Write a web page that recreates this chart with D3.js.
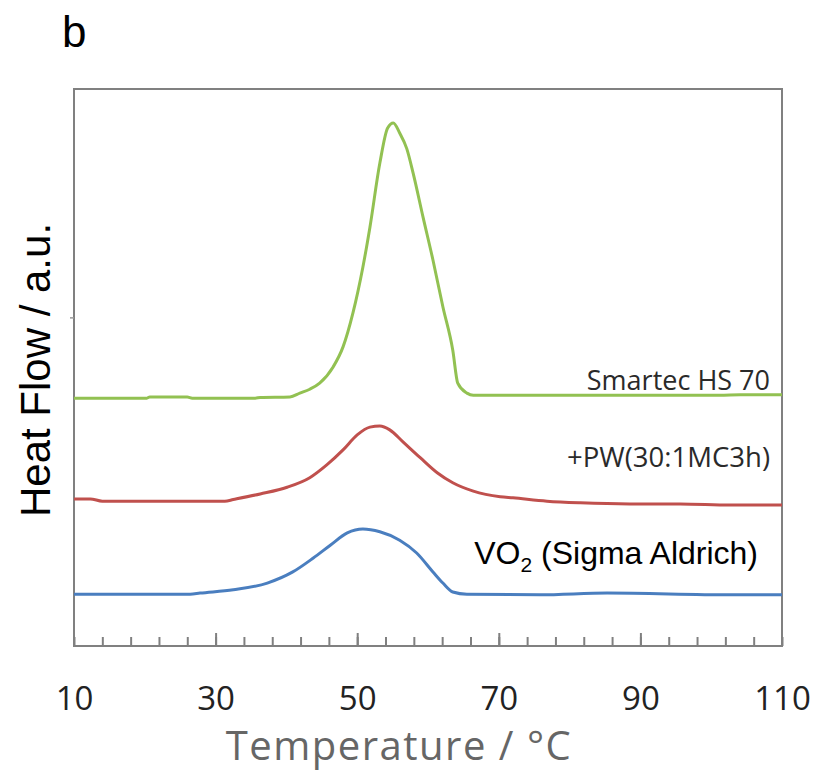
<!DOCTYPE html>
<html>
<head>
<meta charset="utf-8">
<script src="https://cdn.jsdelivr.net/npm/d3@7"></script>
<style>
  html, body { margin: 0; padding: 0; background: #fff; }
  svg { display: block; }
</style>
</head>
<body>
<svg id="chart" width="819" height="771"></svg>
<script>
// ---- data (temperature °C, heat flow a.u.) ----
const smartecT = [10, 20.3, 20.7, 26.0, 26.7, 35.6, 36.3, 40.5, 41.9, 43.3, 44.7, 46.6, 48.0, 49.4, 50.8, 51.8, 53.2, 54.3, 55.1, 56.0, 57.0, 57.9, 59.3, 60.7, 62.1, 63.5, 64.2, 65.5, 66.4, 70.2, 101.2, 104.1, 110];
const smartecV = [44.5, 44.5, 44.7, 44.7, 44.5, 44.5, 44.6, 44.7, 45.4, 46.1, 47.2, 50.1, 53.7, 59.8, 68.0, 75.2, 86.7, 93.0, 93.9, 92.1, 89.3, 84.9, 77.0, 69.3, 60.9, 53.1, 47.2, 45.4, 45.0, 45.0, 45.0, 45.1, 45.1];

const pwT = [10, 12.3, 14.0, 31.3, 32.5, 36.3, 40.1, 43.3, 45.7, 48.0, 50.0, 51.8, 53.2, 54.6, 56.5, 58.9, 61.3, 63.5, 66.4, 70.2, 72.0, 76.8, 81.5, 88.5, 95.6, 102.7, 110];
const pwV = [26.4, 26.4, 26.0, 26.0, 26.3, 27.3, 28.5, 30.2, 32.5, 35.2, 37.9, 39.3, 39.5, 38.8, 36.6, 33.8, 31.1, 29.3, 27.8, 26.8, 26.6, 26.0, 25.7, 25.5, 25.5, 25.3, 25.3];

const vo2T = [10, 26.4, 27.8, 32.5, 37.3, 40.9, 43.8, 46.2, 48.6, 50.8, 53.2, 56.0, 58.4, 60.7, 62.1, 63.5, 65.5, 75.8, 85.3, 102.7, 110];
const vo2V = [9.3, 9.3, 9.5, 10.1, 11.3, 13.3, 15.8, 18.1, 20.3, 21.0, 20.5, 19.0, 16.7, 13.3, 11.3, 9.7, 9.3, 9.2, 9.5, 9.2, 9.2];

const seriesNames = ["Smartec HS 70", "+PW(30:1MC3h)", "VO2 (Sigma Aldrich)"];
const xTickLabels = [10, 30, 50, 70, 90, 110];
const xMinorTicks = d3.range(10, 111, 4);
const yMarkTick = [59];

// ---- layout ----
const svg = d3.select("#chart");
const L = 74, R = 782, T = 89, B = 646;
const x = d3.scaleLinear().domain([10, 110]).range([L, R]);
const y = d3.scaleLinear().domain([0, 100]).range([B, T]);
const axisColor = "#808080";

// frame
svg.append("rect")
  .attr("x", L).attr("y", T).attr("width", R - L).attr("height", B - T)
  .attr("fill", "none").attr("stroke", axisColor).attr("stroke-width", 2);

// minor ticks (inward)
const gMinor = svg.append("g").attr("transform", `translate(0,${B})`)
  .call(d3.axisBottom(x).tickValues(xMinorTicks).tickSize(-9).tickFormat(""));
gMinor.select(".domain").remove();
gMinor.selectAll(".tick line").attr("stroke", axisColor).attr("stroke-width", 2);

// major ticks
const gMajor = svg.append("g").attr("transform", `translate(0,${B})`)
  .call(d3.axisBottom(x).tickValues([30, 50, 70, 90]).tickSize(-13).tickFormat(""));
gMajor.select(".domain").remove();
gMajor.selectAll(".tick line").attr("stroke", axisColor).attr("stroke-width", 2);

// tick labels
const gLab = svg.append("g").attr("transform", `translate(0,${B})`)
  .call(d3.axisBottom(x).tickValues(xTickLabels).tickSize(0).tickFormat(d3.format("d")));
gLab.select(".domain").remove();
gLab.selectAll(".tick text")
  .attr("y", 64).attr("dy", 0)
  .attr("font-family", "'Open Sans', sans-serif")
  .attr("font-size", 33).attr("fill", "#222");

// tiny left tick
const gLeft = svg.append("g").attr("transform", `translate(${L},0)`)
  .call(d3.axisLeft(y).tickValues(yMarkTick).tickSize(4).tickFormat(""));
gLeft.select(".domain").remove();
gLeft.selectAll(".tick line").attr("stroke", "#999").attr("stroke-width", 1.5);

// lines
const line = d3.line().x(d => x(d[0])).y(d => y(d[1])).curve(d3.curveMonotoneX);
const series = [
  { t: smartecT, v: smartecV, color: "#92c152" },
  { t: pwT, v: pwV, color: "#c0504d" },
  { t: vo2T, v: vo2V, color: "#4a7ebf" }
];
series.forEach(s => {
  svg.append("path")
    .datum(s.t.map((t, i) => [t, s.v[i]]))
    .attr("d", line)
    .attr("fill", "none")
    .attr("stroke", s.color)
    .attr("stroke-width", 3)
    .attr("stroke-linejoin", "round");
});

// series labels
svg.append("text").attr("x", 770).attr("y", 390)
  .attr("text-anchor", "end")
  .attr("font-family", "'Open Sans', sans-serif").attr("font-size", 27)
  .attr("fill", "#2a2a2a").text(seriesNames[0]);
svg.append("text").attr("x", 770).attr("y", 467)
  .attr("text-anchor", "end")
  .attr("font-family", "'Open Sans', sans-serif").attr("font-size", 27.5)
  .attr("fill", "#2a2a2a").text(seriesNames[1]);
const vo = svg.append("text").attr("x", 758).attr("y", 564)
  .attr("text-anchor", "end")
  .attr("font-family", "'Liberation Sans', Arial, sans-serif").attr("font-size", 32)
  .attr("fill", "#000");
vo.append("tspan").text("VO");
vo.append("tspan").attr("font-size", 21).attr("dy", 8).text("2");
vo.append("tspan").attr("dy", -8).text(" (Sigma Aldrich)");

// axis titles
svg.append("text")
  .attr("transform", "translate(50,370) rotate(-90)")
  .attr("text-anchor", "middle")
  .attr("font-family", "'Liberation Sans', Arial, sans-serif")
  .attr("font-size", 42).attr("fill", "#000")
  .text("Heat Flow / a.u.");

svg.append("text")
  .attr("x", 399).attr("y", 760)
  .attr("text-anchor", "middle")
  .attr("font-family", "'Open Sans', sans-serif")
  .attr("font-size", 40).attr("letter-spacing", 1.5).attr("fill", "#666")
  .text("Temperature / °C");

// panel letter
svg.append("text").attr("x", 62).attr("y", 47)
  .attr("font-family", "'Liberation Sans', Arial, sans-serif")
  .attr("font-size", 44).attr("fill", "#000").text("b");
</script>
</body>
</html>
